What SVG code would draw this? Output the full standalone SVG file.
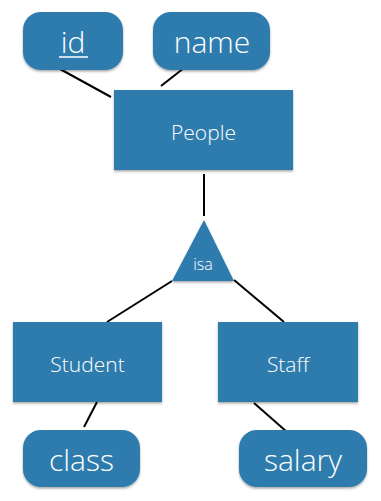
<svg xmlns="http://www.w3.org/2000/svg" width="381" height="501" viewBox="0 0 381 501">
<defs>
<filter id="sh" x="-10%" y="-10%" width="120%" height="130%">
<feDropShadow dx="0" dy="1.5" stdDeviation="1.2" flood-color="#000" flood-opacity="0.35"/>
</filter>
</defs>
<style>
.n{fill:#2e7cae;filter:url(#sh)}
.t{fill:#fff;font-family:"Open Sans","Liberation Sans",sans-serif;font-weight:300;text-anchor:middle}
.big{font-size:30px}
.mid{font-size:21px}
.sm{font-size:16px}
.c line{stroke:#000;stroke-width:2}
</style>
<rect width="381" height="501" fill="#fff"/>
<g class="c" id="connectors">
<line x1="60" y1="69" x2="111" y2="97"/>
<line x1="184" y1="68" x2="161" y2="86"/>
<line x1="204" y1="174" x2="204" y2="216"/>
<line x1="172" y1="281" x2="107" y2="322"/>
<line x1="234" y1="280" x2="284" y2="322"/>
<line x1="97" y1="402" x2="84" y2="427"/>
<line x1="254" y1="403" x2="287" y2="432"/>
</g>
<g id="id">
<rect class="n" x="23" y="12" width="100" height="58" rx="18"/>
<text class="t big" x="73" y="53">id</text>
<line x1="59" y1="57" x2="88" y2="57" stroke="#fff" stroke-width="1.5"/>
</g>
<g id="name">
<rect class="n" x="153" y="12" width="117" height="58" rx="18"/>
<text class="t big" x="212" y="53">name</text>
</g>
<g id="people">
<rect class="n" x="114" y="90" width="179" height="80"/>
<text class="t mid" x="203.5" y="140">People</text>
</g>
<g id="isa">
<polygon class="n" points="204,220 172,281 234,281"/>
<text class="t sm" x="203" y="270">isa</text>
</g>
<g id="student">
<rect class="n" x="13" y="322" width="149" height="80"/>
<text class="t mid" x="87.5" y="372">Student</text>
</g>
<g id="staff">
<rect class="n" x="218" y="322" width="140" height="80"/>
<text class="t mid" x="288" y="372">Staff</text>
</g>
<g id="class">
<rect class="n" x="23" y="430" width="117" height="57" rx="18"/>
<text class="t big" x="81.5" y="471">class</text>
</g>
<g id="salary">
<rect class="n" x="239" y="430" width="128" height="57" rx="18"/>
<text class="t big" x="303" y="471">salary</text>
</g>
</svg>
